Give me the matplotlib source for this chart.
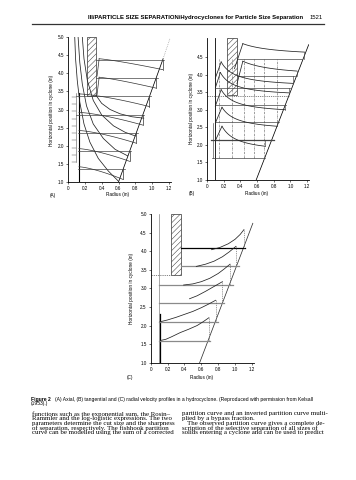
import matplotlib
matplotlib.use("Agg")
import matplotlib.pyplot as plt
from matplotlib.patches import Rectangle
import numpy as np

plt.rcParams['font.family'] = ['Liberation Sans', 'DejaVu Sans']
plt.rcParams['hatch.linewidth'] = 0.35

# ---------------- data ----------------
x_ticks = [0, 0.2, 0.4, 0.6, 0.8, 1.0, 1.2]
x_tick_labels = ["0", "0.2", "0.4", "0.6", "0.8", "1.0", "1.2"]
yticks_A = [1.0, 1.5, 2.0, 2.5, 3.0, 3.5, 4.0, 4.5, 5.0]
yticks_B = [1.0, 1.5, 2.0, 2.5, 3.0, 3.5, 4.0, 4.5]
yticks_C = [1.0, 1.5, 2.0, 2.5, 3.0, 3.5, 4.0, 4.5, 5.0]

# Panel A: axial velocity
A_wall_x = [0.60, 1.13]
A_wall_y = [1.00, 4.40]
A_wall_ext_x = [1.13, 1.21]
A_wall_ext_y = [4.40, 4.95]
A_finder = (0.225, 0.335, 3.38, 5.0)          # x0, x1, y0, y1
A_core_x = 0.125
A_core_top = 3.45
A_levels = [1.35, 1.85, 2.35, 2.85, 3.36, 3.86, 4.37]
A_level_start = [0.12, 0.12, 0.12, 0.10, 0.09, 0.335, 0.335]
A_H1_x = [0.08, 0.09, 0.11, 0.14, 0.19, 0.26, 0.36, 0.48, 0.60]
A_H1_y = [5.00, 4.40, 3.80, 3.20, 2.60, 2.10, 1.65, 1.30, 1.02]
A_H2_x = [0.12, 0.14, 0.17, 0.22, 0.30, 0.42, 0.56, 0.71]
A_H2_y = [5.00, 4.30, 3.70, 3.10, 2.60, 2.20, 1.90, 1.72]
A_H3_x = [0.17, 0.19, 0.23, 0.30, 0.40, 0.54, 0.68, 0.80]
A_H3_y = [5.00, 4.40, 3.80, 3.25, 2.85, 2.55, 2.37, 2.27]
A_H4_x = [0.33, 0.40, 0.50, 0.62, 0.76, 0.90]
A_H4_y = [3.40, 3.17, 3.00, 2.88, 2.80, 2.76]
A_scale_y = [1.55, 1.75, 1.95, 2.15, 2.35, 2.55, 2.75, 2.95, 3.15, 3.35]

# Panel B: tangential velocity
B_wall_x = [0.59, 1.22]
B_wall_y = [1.00, 4.85]
B_finder = (0.24, 0.355, 3.43, 5.05)
B_core_x = 0.10
B_dash_y = 3.38
B_grid_x = [0.14, 0.30, 0.44, 0.56, 0.68, 0.84]
B_grid_bottom = 1.63
B_grid_top = 4.45
B_base_y = [1.63, 2.15, 2.64, 3.14, 3.62, 3.95, 4.45]
B_base_x0 = [0.06, 0.05, 0.10, 0.10, 0.10, 0.36, 0.36]
B_base_x1 = [0.70, 0.80, 0.86, 0.95, 1.00, 1.06, 1.14]
# sawtooth profiles: start, peak, end
B_start_x = [0.10, 0.10, 0.10, 0.10, 0.10, 0.36, 0.33]
B_start_y = [2.12, 2.62, 3.10, 3.62, 3.90, 3.74, 4.17]
B_peak_x = [0.18, 0.18, 0.17, 0.16, 0.17, 0.43, 0.43]
B_peak_y = [2.53, 3.07, 3.57, 4.06, 4.36, 4.38, 4.88]
B_end_x = [0.70, 0.84, 0.94, 0.98, 1.03, 1.08, 1.17]
B_end_y = [1.96, 2.53, 3.00, 3.48, 3.75, 4.10, 4.64]
B_end_base = [2.15, 2.64, 3.14, 3.62, 3.95, 3.95, 4.45]

# Panel C: radial velocity
C_wall_x = [0.58, 1.21]
C_wall_y = [1.00, 4.75]
C_finder = (0.245, 0.354, 3.35, 5.0)
C_core_x = 0.10
C_dash_y = 3.35
C_base_y = [1.58, 2.09, 2.60, 3.09, 3.60, 4.08]
C_base_x0 = [0.10, 0.10, 0.10, 0.10, 0.354, 0.354]
C_base_x1 = [0.70, 0.80, 0.87, 0.97, 1.05, 1.12]
C_p1_x = [0.12, 0.18, 0.25, 0.35, 0.45, 0.55, 0.62, 0.69]
C_p1_y = [1.60, 1.63, 1.70, 1.81, 1.90, 2.00, 2.10, 2.21]
C_p2_x = [0.11, 0.20, 0.30, 0.40, 0.50, 0.60, 0.68, 0.77]
C_p2_y = [2.10, 2.15, 2.22, 2.30, 2.38, 2.48, 2.57, 2.68]
C_p3_x = [0.46, 0.55, 0.65, 0.75, 0.85]
C_p3_y = [2.72, 2.80, 2.92, 3.05, 3.18]
C_p4_x = [0.39, 0.50, 0.60, 0.70, 0.80, 0.87, 0.94]
C_p4_y = [3.09, 3.12, 3.18, 3.27, 3.40, 3.52, 3.65]
C_p5_x = [0.54, 0.65, 0.75, 0.85, 0.93, 1.01]
C_p5_y = [3.59, 3.65, 3.73, 3.85, 3.98, 4.13]
C_p6_x = [0.72, 0.82, 0.92, 1.00, 1.06, 1.105]
C_p6_y = [4.04, 4.10, 4.20, 4.32, 4.45, 4.58]

header = "III/PARTICLE SIZE SEPARATION/Hydrocyclones for Particle Size Separation"
page_no = "1521"
caption_1 = ("(A) Axial, (B) tangential and (C) radial velocity profiles in a hydrocyclone. "
             "(Reproduced with permission from Kelsall")
caption_2 = "(1953).)"
left_col = ["functions such as the exponential sum, the Rosin\u2013",
            "Rammler and the log-logistic expressions. The two",
            "parameters determine the cut size and the sharpness",
            "of separation, respectively. The fishhook partition",
            "curve can be modelled using the sum of a corrected"]
right_col = ["partition curve and an inverted partition curve multi-",
             "plied by a bypass fraction.",
             "   The observed partition curve gives a complete de-",
             "scription of the selective separation of all sizes of",
             "solids entering a cyclone and can be used to predict"]

# ---------------- figure ----------------
W, H = 356, 480
fig = plt.figure(figsize=(W / 100, H / 100), dpi=100)
LW = 0.55
TK = 3.3


def add_ax(px0, px1, py_top, py_bot, xlim, ylim):
    ax = fig.add_axes([px0 / W, 1 - py_bot / H, (px1 - px0) / W, (py_bot - py_top) / H])
    ax.set_xlim(xlim)
    ax.set_ylim(ylim)
    for s in ['top', 'right']:
        ax.spines[s].set_visible(False)
    for s in ['left', 'bottom']:
        ax.spines[s].set_linewidth(0.6)
    ax.set_xticks(x_ticks)
    ax.set_xticklabels(x_tick_labels)
    ax.tick_params(labelsize=TK, length=1.6, width=0.4, pad=1.2, direction='out')
    return ax


def ftext(x, y, s, **kw):
    fig.text(x / W, 1 - y / H, s, **kw)


def finder(ax, f):
    x0, x1, y0, y1 = f
    ax.add_patch(Rectangle((x0, y0), x1 - x0, y1 - y0, fill=False, hatch='//////',
                           lw=0.5, edgecolor='#333333'))


def wall_x_at(wx, wy, y):
    return wx[0] + (y - wy[0]) * (wx[1] - wx[0]) / (wy[1] - wy[0])


# ---- Panel A ----
axA = add_ax(68, 68 + 1.22 * 84.17, 37, 182, (0, 1.22), (1.0, 5.0))
axA.set_yticks(yticks_A)
axA.set_yticklabels([f"{v:.1f}" for v in yticks_A])
axA.plot(A_wall_x, A_wall_y, color='k', lw=LW)
axA.plot(A_wall_ext_x, A_wall_ext_y, color='#888888', lw=0.5, ls=':')
finder(axA, A_finder)
axA.plot([A_core_x, A_core_x], [1.0, A_core_top], color='k', lw=0.8)
for hx, hy in [(A_H1_x, A_H1_y), (A_H2_x, A_H2_y), (A_H3_x, A_H3_y), (A_H4_x, A_H4_y)]:
    axA.plot(hx, hy, color='#222222', lw=LW)
for i, (L, xs) in enumerate(zip(A_levels, A_level_start)):
    xw = wall_x_at(A_wall_x, A_wall_y, L)
    axA.plot([xs, xw + 0.02], [L, L], color='#444444', lw=0.5)
    if i < 5:
        xx = np.linspace(0.13, xw, 40)
        prof = L + 0.07 - 0.35 * ((xx - 0.13) / (xw - 0.13)) ** 1.4
    else:
        xx = np.linspace(0.37, xw, 40)
        prof = L + 0.03 - 0.30 * ((xx - 0.37) / (xw - 0.37)) ** 1.2
        axA.plot([0.345, 0.37], [L - 0.45, L + 0.03], color='#333333', lw=0.5)
    axA.plot(xx, prof, color='#333333', lw=0.5)
    axA.plot([xw, xw], [prof[-1], L], color='#333333', lw=0.5)
axA.plot([0.09, 0.09], [A_scale_y[0], A_scale_y[-1] + 0.1], color='#555555', lw=0.4)
for sy in A_scale_y:
    axA.plot([0.05, 0.09], [sy, sy], color='#555555', lw=0.35)

ftext(52, 110, "Horizontal position in cyclone (in)", rotation=90, fontsize=3.4,
      ha='center', va='center')
ftext(118, 194.5, "Radius (in)", fontsize=3.4, ha='center', va='center')
ftext(53, 195, "(A)", fontsize=3.4, ha='center', va='center')

# ---- Panel B ----
axB = add_ax(207, 207 + 1.22 * 83.33, 180 - 4.05 * 35.14, 180, (0, 1.22), (1.0, 5.05))
axB.set_yticks(yticks_B)
axB.set_yticklabels([f"{v:.1f}" for v in yticks_B])
axB.plot(B_wall_x, B_wall_y, color='k', lw=LW)
finder(axB, B_finder)
axB.plot([B_core_x, B_core_x], [1.0, 5.05], color='k', lw=0.6)
axB.plot([0, wall_x_at(B_wall_x, B_wall_y, B_dash_y)], [B_dash_y, B_dash_y],
         color='#444444', lw=0.45, ls=(0, (2, 1.5)))
for gx in B_grid_x:
    ybot = max(B_grid_bottom, B_wall_y[0] + (gx - B_wall_x[0]) * (B_wall_y[1] - B_wall_y[0]) / (B_wall_x[1] - B_wall_x[0]))
    axB.plot([gx, gx], [ybot, B_grid_top], color='#555555', lw=0.4, ls=(0, (4, 1.5, 1, 1.5)))
for by, bx0, bx1 in zip(B_base_y, B_base_x0, B_base_x1):
    axB.plot([bx0, bx1], [by, by], color='#444444', lw=0.5 if by != 2.15 else 0.9)
axB.plot([0.068, 0.068], [1.63, 2.62], color='#444444', lw=0.45)
for sx, sy, px, py, ex, ey, eb in zip(B_start_x, B_start_y, B_peak_x, B_peak_y,
                                      B_end_x, B_end_y, B_end_base):
    xx = np.linspace(px, ex, 50)
    f = (px / xx - px / ex) / (1 - px / ex)
    yy = ey + (py - ey) * f
    axB.plot([sx, px], [sy, py], color='#222222', lw=LW)
    axB.plot(xx, yy, color='#222222', lw=LW)
    axB.plot([ex, ex], [ey, eb], color='#444444', lw=0.45)
ftext(191, 108, "Horizontal position in cyclone (in)", rotation=90, fontsize=3.4,
      ha='center', va='center')
ftext(257, 193, "Radius (in)", fontsize=3.4, ha='center', va='center')
ftext(192, 193, "(B)", fontsize=3.4, ha='center', va='center')

# ---- Panel C ----
axC = add_ax(150.7, 150.7 + 1.22 * 84.4, 214, 362.7, (0, 1.22), (1.0, 5.0))
axC.set_yticks(yticks_C)
axC.set_yticklabels([f"{v:.1f}" for v in yticks_C])
axC.plot(C_wall_x, C_wall_y, color='#333333', lw=LW)
finder(axC, C_finder)
axC.plot([C_core_x, C_core_x], [1.0, 5.0], color='#777777', lw=0.45)
axC.plot([0.11, 0.11], [1.0, 2.3], color='k', lw=0.9)
axC.plot([0, C_finder[0]], [C_dash_y, C_dash_y], color='#444444', lw=0.45, ls=(0, (2, 1.5)))
for i, (by, bx0, bx1) in enumerate(zip(C_base_y, C_base_x0, C_base_x1)):
    axC.plot([bx0, bx1], [by, by], color='k' if i == len(C_base_y) - 1 else '#8a8a8a',
             lw=0.9)
profs = [(C_p1_x, C_p1_y), (C_p2_x, C_p2_y), (C_p3_x, C_p3_y),
         (C_p4_x, C_p4_y), (C_p5_x, C_p5_y), (C_p6_x, C_p6_y)]
for (px_, py_), base in zip(profs, C_base_y):
    axC.plot(px_, py_, color='#222222', lw=LW)
    axC.plot([px_[-1], px_[-1]], [py_[-1], base], color='#666666', lw=0.45,
             ls=(0, (2, 1.5)))
ftext(131, 288, "Horizontal position in cyclone (in)", rotation=90, fontsize=3.4,
      ha='center', va='center')
ftext(202, 377.7, "Radius (in)", fontsize=3.4, ha='center', va='center')
ftext(130, 377.7, "(C)", fontsize=3.4, ha='center', va='center')

# ---- header, caption, body text ----
ftext(88, 17.3, header, fontsize=4.3, fontweight='bold', ha='left', va='center')
ftext(323, 17.3, page_no, fontsize=4.2, ha='right', va='center')
fig.add_artist(plt.Line2D([32 / W, 324 / W], [1 - 24 / H, 1 - 24 / H], color='#333333', lw=0.9))

ftext(31, 399, "Figure 2", fontsize=3.6, fontweight='bold', ha='left', va='center')
ftext(55, 399, caption_1, fontsize=3.6, ha='left', va='center')
ftext(31, 403.9, caption_2, fontsize=3.6, ha='left', va='center')

line_y = [413.7, 418.3, 423.0, 427.7, 432.3]
for s, y in zip(left_col, line_y):
    ftext(32, y, s, fontsize=4.95, family='Liberation Serif', ha='left', va='center')
for s, y in zip(right_col, line_y):
    ftext(181.5, y, s, fontsize=4.95, family='Liberation Serif', ha='left', va='center')

fig.savefig("out.png", dpi=100, facecolor='white')
